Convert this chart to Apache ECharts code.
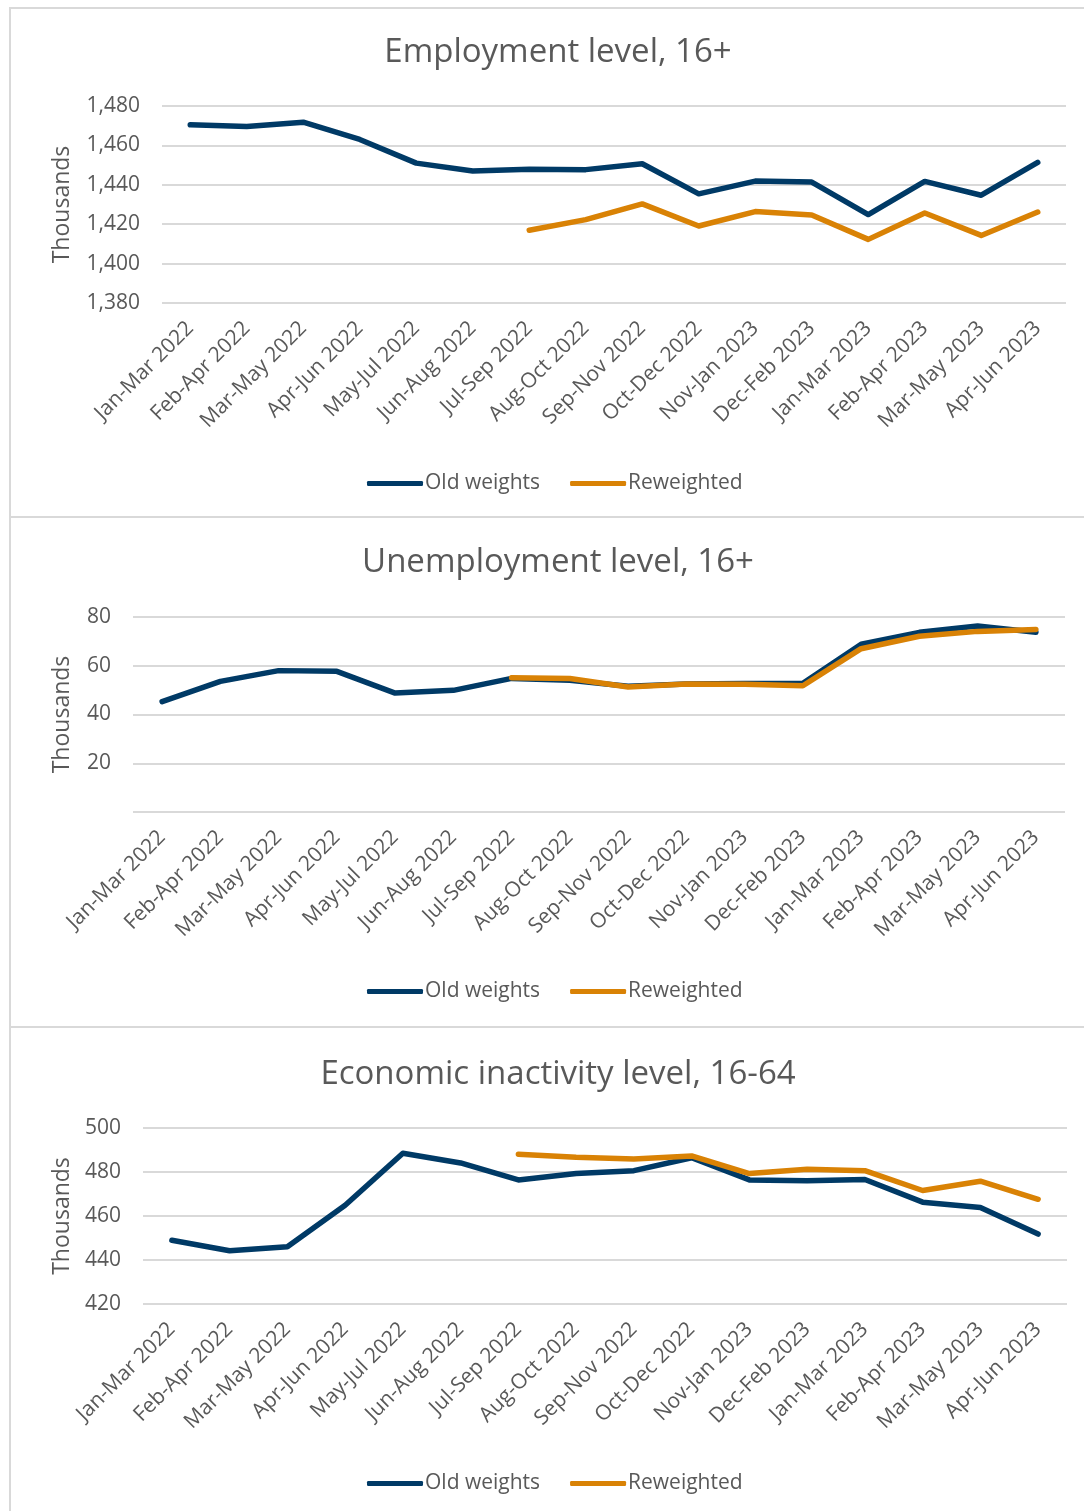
<!DOCTYPE html>
<html>
<head>
<meta charset="utf-8">
<script src="https://cdn.jsdelivr.net/npm/echarts@6/dist/echarts.min.js"></script>
<style>
  html, body { margin: 0; padding: 0; background: #ffffff; width: 1084px; height: 1511px; overflow: hidden; }
  .panel { position: absolute; border: 2px solid #d9d9d9; box-sizing: border-box; }
  .chart { position: absolute; left: 0; width: 1084px; }
</style>
</head>
<body>
<div class="panel" style="left:9px; top:7px; width:1090px; height:511px;"></div>
<div class="panel" style="left:9px; top:516px; width:1090px; height:512px;"></div>
<div class="panel" style="left:9px; top:1026px; width:1090px; height:520px;"></div>
<div id="c1" class="chart" style="top:0px; height:517px;"></div>
<div id="c2" class="chart" style="top:517px; height:510px;"></div>
<div id="c3" class="chart" style="top:1027px; height:484px;"></div>
<script>
const categories = ["Jan-Mar 2022","Feb-Apr 2022","Mar-May 2022","Apr-Jun 2022","May-Jul 2022","Jun-Aug 2022","Jul-Sep 2022","Aug-Oct 2022","Sep-Nov 2022","Oct-Dec 2022","Nov-Jan 2023","Dec-Feb 2023","Jan-Mar 2023","Feb-Apr 2023","Mar-May 2023","Apr-Jun 2023"];
const seriesNames = ["Old weights", "Reweighted"];

const titles = ["Employment level, 16+", "Unemployment level, 16+", "Economic inactivity level, 16-64"];
const yAxisName = "Thousands";

const employmentOld = [1470.5,1469.6,1471.8,1463.0,1451.0,1447.0,1447.9,1447.7,1450.7,1435.4,1441.9,1441.4,1424.9,1441.7,1434.7,1451.4];
const employmentRew = [null,null,null,null,null,null,1416.9,1422.3,1430.3,1419.1,1426.4,1424.7,1412.3,1425.7,1414.3,1426.2];

const unemploymentOld = [45.3,53.6,58.0,57.7,48.8,49.9,54.8,54.0,51.6,52.5,52.7,52.8,68.8,73.7,76.3,73.7];
const unemploymentRew = [null,null,null,null,null,null,55.1,54.8,51.3,52.5,52.4,51.8,67.0,72.1,74.1,74.9];

const inactivityOld = [449.0,444.2,446.0,464.9,488.5,484.1,476.4,479.3,480.6,486.5,476.4,476.0,476.6,466.3,463.9,451.8];
const inactivityRew = [null,null,null,null,null,null,488.1,486.7,485.9,487.3,479.3,481.2,480.6,471.6,475.8,467.6];

const employmentTicks = { min: 1380, max: 1480, interval: 20 };
const unemploymentTicks = { min: 0, max: 80, interval: 20 };
const inactivityTicks = { min: 420, max: 500, interval: 20 };

const FONT = "'Open Sans', 'Noto Sans', sans-serif";
const TXT = "#595959";
const OLD_COLOR = "#003A66";
const REW_COLOR = "#D98205";

function build(cfg) {
  return {
    animation: false,
    textStyle: { fontFamily: FONT },
    title: {
      text: cfg.title, left: 553, textAlign: 'center', top: cfg.titleTop,
      textStyle: { fontFamily: FONT, fontSize: 33, fontWeight: 'normal', color: TXT }
    },
    legend: {
      data: seriesNames, left: 362, top: cfg.legendTop,
      icon: 'roundRect', itemWidth: 56, itemHeight: 5, itemGap: 30,
      textStyle: { fontFamily: FONT, fontSize: 21, color: TXT, padding: [0,0,0,-3] }
    },
    grid: { left: cfg.gridLeft, right: cfg.gridRight, top: cfg.gridTop, height: cfg.gridHeight, containLabel: false },
    xAxis: {
      type: 'category', data: categories, boundaryGap: true,
      axisLine: { show: false }, axisTick: { show: false },
      axisLabel: { rotate: 45, fontFamily: FONT, fontSize: 21, color: TXT, margin: cfg.xMargin, interval: 0 }
    },
    yAxis: {
      type: 'value', min: cfg.ticks.min, max: cfg.ticks.max, interval: cfg.ticks.interval,
      name: yAxisName, nameLocation: 'middle', nameGap: cfg.nameGap, nameRotate: 90,
      nameTextStyle: { fontFamily: FONT, fontSize: 23, color: TXT },
      axisLine: { show: false }, axisTick: { show: false },
      axisLabel: {
        fontFamily: FONT, fontSize: 21, color: TXT, margin: 22,
        formatter: function (v) { return cfg.hideZero && v === 0 ? '' : v.toLocaleString('en-GB'); }
      },
      splitLine: { lineStyle: { color: '#d9d9d9', width: 2 } }
    },
    series: [
      { name: seriesNames[0], type: 'line', data: cfg.old, showSymbol: false, symbol: 'none',
        lineStyle: { color: OLD_COLOR, width: 5.5, cap: 'round', join: 'round' }, itemStyle: { color: OLD_COLOR } },
      { name: seriesNames[1], type: 'line', data: cfg.rew, showSymbol: false, symbol: 'none',
        lineStyle: { color: REW_COLOR, width: 5.5, cap: 'round', join: 'round' }, itemStyle: { color: REW_COLOR } }
    ]
  };
}

echarts.init(document.getElementById('c1'), null, { renderer: 'canvas' }).setOption(build({
  title: titles[0], titleTop: 31, legendTop: 468,
  gridLeft: 162, gridRight: 18, gridTop: 106, gridHeight: 197,
  ticks: employmentTicks, nameGap: 88, xMargin: 22,
  old: employmentOld, rew: employmentRew
}));
echarts.init(document.getElementById('c2'), null, { renderer: 'canvas' }).setOption(build({
  title: titles[1], titleTop: 24, legendTop: 459,
  gridLeft: 133, gridRight: 19, gridTop: 100, gridHeight: 195,
  ticks: unemploymentTicks, nameGap: 59, xMargin: 22, hideZero: true,
  old: unemploymentOld, rew: unemploymentRew
}));
echarts.init(document.getElementById('c3'), null, { renderer: 'canvas' }).setOption(build({
  title: titles[2], titleTop: 26, legendTop: 441,
  gridLeft: 143, gridRight: 17, gridTop: 101, gridHeight: 176,
  ticks: inactivityTicks, nameGap: 69, xMargin: 22,
  old: inactivityOld, rew: inactivityRew
}));
</script>
</body>
</html>
